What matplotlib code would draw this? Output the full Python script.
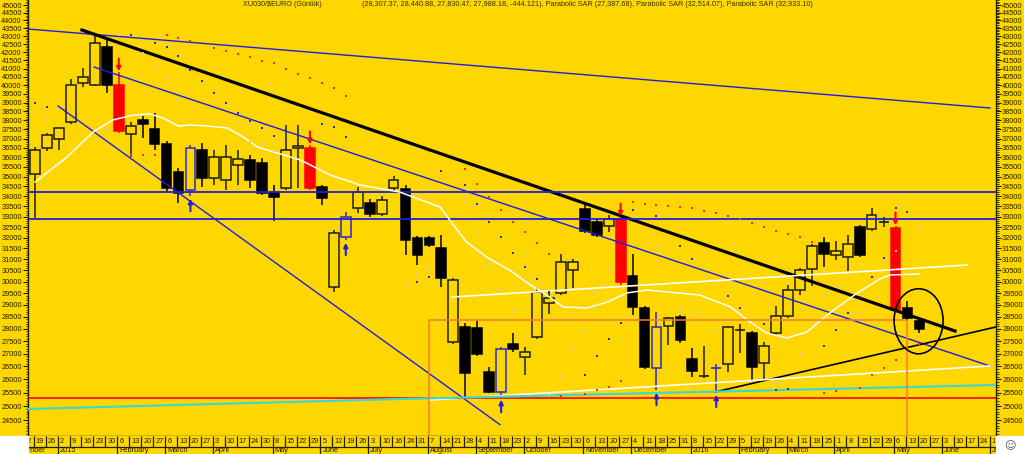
import matplotlib
matplotlib.use("Agg")
import matplotlib.pyplot as plt
from matplotlib.patches import Rectangle, Ellipse
from matplotlib.ticker import FixedLocator, MultipleLocator, NullFormatter

plt.rcParams['font.family'] = ['Liberation Sans', 'DejaVu Sans']

BG = '#FFD700'
INK = '#1e1e00'
RED = '#FF0000'
BLUE = '#1E1EE0'

# weekly candles, week 0 = week ending 2 Jan 2015
week = list(range(-2, 73))
opens = [35130, 36500, 36980, 37910, 40140, 40020, 42315, 40020, 37250, 38020,
         37525, 36710, 35235, 34317, 36388, 34925, 34824, 35597, 35859, 35700,
         33967, 34420, 36500, 36500, 34470, 29770, 32034, 33424, 33670, 33131,
         34420, 34367, 31200, 31986, 31522, 30078, 26247, 28036, 26285, 25526,
         27386, 26870, 27669, 29082, 29511, 30881, 33375, 32128, 32555, 32890,
         30255, 28870, 26440, 28118, 28491, 26791, 26132, 26420, 26595, 27934,
         27832, 26634, 27832, 28533, 29641, 30566, 31754, 31200, 31707, 31200,
         32411, 32720, 32459, 28870, 28307]
highs = [36550, 37300, 37640, 40380, 41030, 43000, 42750, 40790, 37910, 38245,
         38415, 36870, 35440, 36656, 36765, 36388, 36656, 36388, 36122, 35962,
         34569, 37745, 37745, 36656, 34569, 32364, 33228, 34470, 33867, 34015,
         35029, 34569, 32080, 32080, 32128, 30166, 28241, 28324, 26479, 27266,
         27832, 27266, 29772, 29554, 31246, 31018, 33670, 32890, 33083, 32985,
         31246, 28955, 28701, 28491, 28575, 27226, 27306, 26595, 28118, 28200,
         27913, 27467, 28955, 29859, 30610, 31707, 32034, 31846, 32128, 32602,
         33424, 32985, 32555, 29167, 28441]
lows = [32940, 36335, 36390, 37800, 39905, 39965, 39555, 37305, 36015, 37035,
        36390, 34215, 33670, 34015, 34470, 34569, 34317, 34569, 34420, 34067,
        32794, 34317, 34420, 34317, 33571, 29555, 31893, 33180, 32985, 33035,
        34216, 31200, 30746, 31568, 29772, 27386, 25340, 26909, 25489, 25340,
        27067, 26170, 27587, 28617, 29425, 29728, 32222, 32034, 32270, 29859,
        28575, 26402, 25601, 27346, 27426, 26094, 26056, 25527, 26285, 27027,
        25979, 26017, 27750, 28450, 29425, 29815, 30655, 30973, 30478, 31108,
        32317, 32507, 28701, 28366, 27830]
closes = [36390, 37200, 37580, 40020, 40495, 42565, 40020, 37415, 37690, 37800,
          36710, 34420, 34165, 36500, 34925, 36015, 36015, 35910, 34824, 34165,
          34165, 36388, 36605, 34420, 33920, 32220, 32985, 34216, 33131, 33818,
          34824, 31893, 31986, 31661, 30166, 27467, 28077, 26988, 25526, 27187,
          27187, 27067, 29554, 29296, 30881, 30522, 32317, 32746, 32890, 29990,
          28912, 26479, 28077, 28450, 27547, 26325, 26170, 26460, 28077, 27975,
          26479, 27306, 28533, 29641, 30522, 31614, 31246, 31383, 31108, 32507,
          33083, 32770, 28785, 28450, 27988]
# u hollow up, d black down, r red signal, b blue hollow, x cross, X blue cross
kinds = "uuuuuudruddddbduuuddduurdubudu" + "uddddudddbduuuuuddurddbuddxXuxduuuuuduudux" + "rdd"

# signal arrows
sell_weeks = [5, 21, 47, 70]
buy_weeks = [11, 24, 37, 50, 55]

# parabolic SAR dots (week, price)
sar_red_w = [6, 7, 8, 9, 10, 11, 13, 14, 15, 16, 17, 18, 19, 20, 21, 22, 23, 24,
             34, 35, 36, 37, 38, 39, 40, 41, 42, 44, 45, 46, 47,
             48, 49, 50, 51, 52, 53, 54, 55, 56, 57, 58, 59, 60, 61, 62, 63,
             64, 65, 67, 68, 69, 70, 72]
sar_red_p = [36122, 36122, 36122, 43065, 42877, 42690, 42253, 42068, 41883, 41700,
             41456, 41334, 40973, 40674, 40436, 40141, 39847, 39384,
             35389, 34620, 33967, 33326, 32746, 32270, 31754, 31246,
             25380, 25450, 25601, 25714, 25941,
             33720, 33620, 33571, 33522, 33473, 33424, 33278, 33180, 33035, 32890,
             32698, 32507, 32317, 32175, 32034, 31800,
             25490, 25564, 25677, 26170, 26440, 26752, 27386]
sar_blue_w = [-2, -1, 6, 8, 9, 10, 11, 12, 13, 14, 15, 16, 17, 18, 22, 23, 24,
              30, 31, 32, 34, 35, 36, 37, 38, 39, 40, 41, 44, 45, 46, 47, 48, 50,
              52, 53, 56, 57, 59, 60, 61, 64, 65, 66, 67, 68, 69, 70, 71, 72]
sar_blue_p = [38982, 38754, 43065, 42565, 42315, 41761, 40913, 40259, 39555, 38982,
              38415, 37968, 37580, 37143, 37800, 37635, 37090,
              29990, 30210, 35285, 34569, 33620, 32746, 32034, 31292, 30655, 30122,
              29554, 26170, 26909, 27587, 28241, 33326, 33035,
              31614, 31018, 29382, 28870, 28200, 25601, 25640, 27306, 27954, 28659,
              29338, 30210, 31063, 33424, 33228, 32890]
sar_grey_w = [-1, 0, 4, 5, 7, 8, 9, 10, 16, 17, 18, 29, 30, 31, 33, 34, 35, 36, 37,
              38, 40, 41, 42, 43, 44, 45, 46, 50, 52, 53, 55, 60, 62, 63, 64, 65,
              69, 70, 72]
sar_grey_p = [38135, 38641, 37525, 43065, 41945, 41092, 40436, 39153, 36817, 36710,
              36335, 29815, 30388, 30610, 35080, 33917, 32222, 30791, 29685,
              28743, 29728, 25415, 26093, 27187, 27954, 29511, 30610, 31568, 28870,
              28701, 27954, 25865, 26988, 28200, 29425, 29815, 30882, 31383, 32459]

# white moving average (week, price)
ma_w = [-2, 0.67, 2.85, 4.5, 6.2, 7.6, 8.7, 10, 11, 12.4, 14.1, 15.4, 16.6, 20.2,
        22.7, 25.2, 28.5, 31.9, 33, 34.1, 35.9, 37.7, 39.2, 40.8, 42.2, 44.2,
        45.9, 47.5, 49.2, 50.9, 53.6, 56.2, 57.6, 59.2, 60.9, 62.6, 64.5, 66.8,
        68.7, 69.5, 72]
ma_p = [34720, 36015, 37360, 38023, 38302, 38360, 38135, 37690, 37745, 37690,
        37580, 37090, 36550, 35859, 35080, 34569, 34216, 33473, 32602, 31800,
        31063, 30522, 29946, 29425, 28912, 28870, 29125, 29511, 29641, 29554,
        29425, 28912, 28366, 27832, 27628, 27873, 28659, 29511, 30122, 30299,
        30344]

# trend lines: (week0, price0, week1, price1)
blue_lines = [(-2.59, 43445, 77.9, 38698), (2.93, 41092, 77.9, 26517),
              (-0.08, 38811, 36.9, 24336)]
black_thick = (1.92, 43382, 74.98, 27913)
black_thin = (54.9, 25527, 78.4, 28077)
white_lines = [(32.9, 29338, 76.0, 30746), (31.0, 25229, 77.9, 26517)]
blue_levels = [34216, 32890]
red_level = 25303
cyan_w = [-2.59, 28.5, 53.6, 78.4]
cyan_p = [24899, 25265, 25527, 25790]
box = (31, 71, 28370)          # left week, right week, top price
circle = (71.93, 28345, 4.1, 29728, 27027)   # centre week/price, width, top, bottom

# date axis labels
day_labels = ['12', '19', '26', '2', '9', '16', '23', '30', '6', '13', '20', '27',
              '6', '13', '20', '27', '3', '10', '17', '24', '30', '8', '15', '22',
              '29', '5', '12', '19', '26', '3', '10', '16', '24', '31', '7', '14',
              '21', '28', '4', '11', '18', '23', '2', '9', '16', '23', '30', '6',
              '13', '20', '27', '4', '11', '18', '25', '31', '8', '15', '22', '29',
              '5', '12', '19', '26', '4', '11', '18', '25', '1', '8', '15', '22',
              '29', '6', '13', '20', '27', '3', '10', '17', '24', '1']
day_first = -3
month_labels = ['December', '2015', 'February', 'March', 'April', 'May', 'June',
                'July', 'August', 'September', 'October', 'November', 'December',
                '2016', 'February', 'March', 'April', 'May', 'June', 'July']
month_start = [-4, 0, 5, 9, 13, 18, 22, 26, 31, 35, 39, 44, 48, 53, 57, 61, 65,
               70, 74, 78]

W, H = 1024, 454
fig = plt.figure(figsize=(W / 100, H / 100), dpi=100, facecolor=BG)
L, R, B = 28 / W, 996 / W, 18 / H
ax = fig.add_axes([L, B, R - L, 1 - B], facecolor=BG)
ax.set_yscale('log')
ax.set_xlim(-2.594, 78.41)
ax.set_ylim(23933, 45331)

# candles
for k, o, h, l, c, t in zip(week, opens, highs, lows, closes, kinds):
    if t == 'r':
        edge, fill = RED, RED
    elif t == 'd':
        edge, fill = '#000000', '#000000'
    elif t in 'bX':
        edge, fill = '#2828c8', BG
    else:
        edge, fill = INK, BG
    ax.vlines(k, l, h, color=edge, lw=1.1, zorder=3)
    if t in 'xX':
        ax.hlines((o + c) / 2, k - 0.42, k + 0.42, color=edge, lw=1.2, zorder=4)
    else:
        lo, hi = min(o, c), max(o, c)
        ax.bar(k, hi - lo, bottom=lo, width=0.82, color=fill, edgecolor=edge,
               linewidth=1.1, zorder=4)

arrow_style = dict(arrowstyle='-|>', lw=1.5, mutation_scale=6, shrinkA=0, shrinkB=0)
for k in sell_weeks:
    hi = highs[week.index(k)]
    ax.annotate('', xy=(k, hi * 1.001), xytext=(k, hi * 1.02),
                arrowprops=dict(color=RED, **arrow_style), zorder=6)
for k in buy_weeks:
    lo = lows[week.index(k)]
    ax.annotate('', xy=(k, lo * 0.996), xytext=(k, lo * 0.978),
                arrowprops=dict(color='#2020d0', **arrow_style), zorder=6)

# lines
for w0, p0, w1, p1 in blue_lines:
    ax.plot([w0, w1], [p0, p1], color=BLUE, lw=1.0, zorder=5)
ax.plot(black_thick[::2], black_thick[1::2], color='#000000', lw=2.3, zorder=5)
ax.plot(black_thin[::2], black_thin[1::2], color='#000000', lw=1.2, zorder=5)
for w0, p0, w1, p1 in white_lines:
    ax.plot([w0, w1], [p0, p1], color='white', lw=1.2, zorder=5)
for lvl in blue_levels:
    ax.axhline(lvl, color=BLUE, lw=1.3, zorder=5)
ax.axhline(red_level, color=RED, lw=1.2, zorder=5)
ax.plot(cyan_w, cyan_p, color='#3fd8d0', lw=1.6, zorder=5)
ax.plot(ma_w, ma_p, color='white', lw=1.1, zorder=5)
ax.plot([box[0], box[0], box[1], box[1]], [20000, box[2], box[2], 20000],
        color='#f47a3a', lw=1.1, zorder=5)
cw, cp, cwid, ctop, cbot = circle
ax.add_patch(Ellipse((cw, cp), cwid, ctop - cbot, fill=False, edgecolor='#000000',
                     lw=1.2, zorder=6))

ax.scatter(sar_red_w, sar_red_p, s=3, marker='s', color='#ff2a2a', lw=0, zorder=6)
ax.scatter(sar_blue_w, sar_blue_p, s=3, marker='s', color='#2a2ad8', lw=0, zorder=6)
ax.scatter(sar_grey_w, sar_grey_p, s=3, marker='s', color='#c4c4e4', lw=0, zorder=6)

# axes cosmetics
yt = list(range(24500, 45001, 500))
ax.yaxis.set_major_locator(FixedLocator(yt))
ax.yaxis.set_major_formatter(plt.FixedFormatter([str(v) for v in yt]))
ax.yaxis.set_minor_locator(MultipleLocator(100))
ax.yaxis.set_minor_formatter(NullFormatter())
ax.tick_params(axis='y', which='both', left=True, right=True, labelleft=True,
               labelright=True, direction='out', colors=INK, labelsize=5.3, pad=0.8)
ax.tick_params(axis='y', which='major', length=3.6, width=0.8)
ax.tick_params(axis='y', which='minor', length=1.8, width=0.6)
ax.tick_params(axis='x', which='both', bottom=False, labelbottom=False)
ax.spines['top'].set_visible(False)
for s in ('left', 'right', 'bottom'):
    ax.spines[s].set_color(INK)
    ax.spines[s].set_linewidth(1.0)

# date axis
axd = fig.add_axes([L, 0, R - L, B], facecolor=BG)
axd.set_xlim(ax.get_xlim())
axd.set_ylim(0, 18)
axd.axis('off')
axd.add_patch(Rectangle((-10, 0), 100, 18, color=BG, zorder=0))
axd.hlines(7, -10, 90, color=INK, lw=0.9)
for i, lab in enumerate(day_labels):
    k = day_first + i
    axd.vlines(k - 0.12, 7, 18, color=INK, lw=0.9)
    axd.text(k + 0.05, 12.3, lab, ha='left', va='center', fontsize=5.3, color=INK,
             clip_on=True)
for k, lab in zip(month_start, month_labels):
    axd.vlines(k - 0.12, 0, 7, color=INK, lw=0.9)
    axd.text(k + 0.05, 6.6, lab, ha='left', va='top', fontsize=5.3, color=INK,
             clip_on=True)

fig.patches.append(Rectangle((0, 0), L, B, transform=fig.transFigure,
                             color='white', zorder=5))
fig.patches.append(Rectangle((R, 0), 1 - R, B, transform=fig.transFigure,
                             color='white', zorder=5))
fig.text(1010 / W, 8 / H, '\u263a', ha='center', va='center', fontsize=8,
         color='#555555', family='DejaVu Sans', zorder=6)

fig.text(243 / W, 1 - 5 / H, r'XU030/\$EURO (Günlük)', ha='left', va='center',
         fontsize=5.2, color='#333300')
fig.text(362 / W, 1 - 5 / H,
         '(28,307.37, 28,440.88, 27,830.47, 27,988.18, -444.121), Parabolic SAR '
         '(27,387.68), Parabolic SAR (32,514.07), Parabolic SAR (32,933.10)',
         ha='left', va='center', fontsize=5.2, color='#333300')

fig.savefig('out.png', dpi=100, facecolor=BG)
